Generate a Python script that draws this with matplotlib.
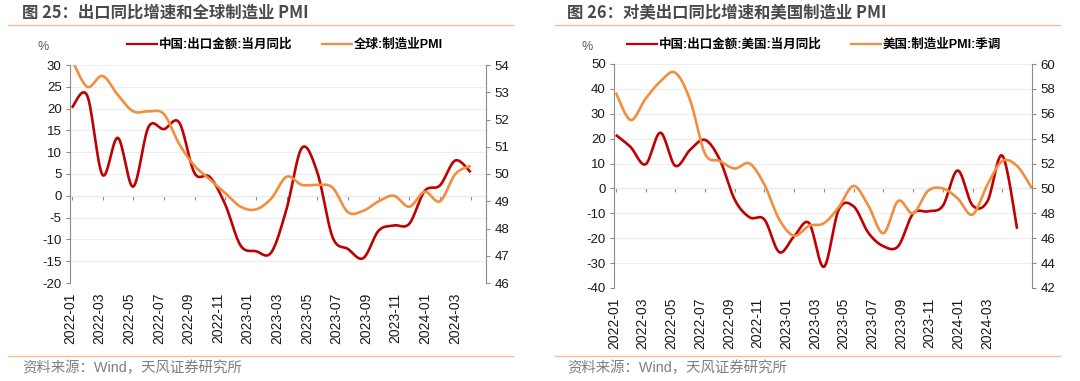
import numpy as np
import pandas as pd
import matplotlib
matplotlib.use("Agg")
import matplotlib.pyplot as plt
from matplotlib.lines import Line2D

plt.rcParams['font.family'] = ['Liberation Sans', 'Noto Sans CJK SC']
plt.rcParams['axes.unicode_minus'] = False

# months shown on both panels
months = pd.date_range('2022-01', periods=29, freq='MS').strftime('%Y-%m').tolist()
tick_labels = months[:27:2]

# fig 25: China export yoy (%) and global manufacturing PMI
cn_export = [20.2, 23.0, 4.8, 13.3, 2.1, 15.8, 15.3, 16.8, 5.2, 4.3, -2.0, -11.4, -12.7,
             -13.0, -3.0, 11.0, 5.4, -9.5, -12.2, -14.3, -8.0, -6.8, -6.4, 1.1, 2.4, 8.1, 5.4]
global_pmi = [54.2, 53.2, 53.6, 52.9, 52.3, 52.3, 52.2, 51.1, 50.3, 49.8, 49.3, 48.8, 48.7,
              49.1, 49.9, 49.6, 49.6, 49.5, 48.6, 48.65, 49.0, 49.2, 48.8, 49.35, 49.0, 50.0, 50.3]

# fig 26: China export to US yoy (%) and US manufacturing PMI (sa)
cn_export_us = [21.5, 16.6, 9.7, 22.4, 9.1, 15.5, 19.5, 11.5, -4.5, -11.6, -12.5, -25.6, -19.2,
                -13.9, -31.5, -8.5, -7.2, -17.9, -23.2, -23.2, -10.1, -9.2, -7.0, 7.2, -6.8, -5.2,
                13.2, -16.2]
us_pmi = [57.7, 55.5, 57.2, 58.6, 59.3, 57.1, 52.8, 52.2, 51.6, 52.0, 50.3, 47.5, 46.2, 47.0,
          47.2, 48.5, 50.2, 48.6, 46.4, 49.0, 48.0, 49.8, 50.0, 49.2, 47.9, 50.3, 52.2, 51.8, 50.0]

RED = '#C00000'
ORANGE = '#F28E3E'
GREY = '#8C8C8C'
W, H = 1080, 381


def smooth(y, n=16):
    # Excel style smoothed line (Catmull-Rom bezier through the points)
    y = np.asarray(y, dtype=float)
    x = np.arange(len(y), dtype=float)
    t = np.linspace(0, 1, n, endpoint=False)
    xs, ys = [], []
    for i in range(len(y) - 1):
        i0, i3 = max(i - 1, 0), min(i + 2, len(y) - 1)
        for arr, out in ((x, xs), (y, ys)):
            p0, p1, p2, p3 = arr[i0], arr[i], arr[i + 1], arr[i3]
            c1 = p1 + (p2 - p0) / 6
            c2 = p2 - (p3 - p1) / 6
            out.extend((1 - t) ** 3 * p1 + 3 * (1 - t) ** 2 * t * c1 + 3 * (1 - t) * t ** 2 * c2 + t ** 3 * p2)
    xs.append(x[-1])
    ys.append(y[-1])
    return np.array(xs), np.array(ys)


def panel(rect, red, orange, xmax, ylim, ystep, y2lim, y2step, title, names, tx, lx, legx):
    ax = fig.add_axes([rect[0] / W, 1 - rect[3] / H, (rect[2] - rect[0]) / W, (rect[3] - rect[1]) / H])
    ax2 = ax.twinx()

    xr, yr = smooth(red)
    ax.plot(xr, yr, color=RED, lw=1.9, solid_capstyle='butt')
    xo, yo = smooth(orange)
    ax2.plot(xo, yo, color=ORANGE, lw=1.9, solid_capstyle='butt')

    ax.set_xlim(0, xmax)
    ax.set_ylim(*ylim)
    ax.set_yticks(np.arange(ylim[0], ylim[1] + 1, ystep))
    ax2.set_ylim(*y2lim)
    ax2.set_yticks(np.arange(y2lim[0], y2lim[1] + 1, y2step))

    ax.grid(axis='y', color='#EEEEEE', lw=0.8)
    ax.set_axisbelow(True)
    for a in (ax, ax2):
        for s in ('top', 'bottom'):
            a.spines[s].set_visible(False)
    ax.spines['right'].set_visible(False)
    ax2.spines['left'].set_visible(False)
    ax.spines['left'].set_color(GREY)
    ax2.spines['right'].set_color(GREY)

    ax.tick_params(axis='y', direction='out', length=3, color=GREY, labelsize=9.5, labelcolor='#1a1a1a', pad=3)
    ax2.tick_params(axis='y', direction='out', length=3, color=GREY, labelsize=9.5, labelcolor='#1a1a1a', pad=3)

    # category labels, rotated
    ax.set_xticks(np.arange(len(tick_labels)) * 1.93 - 0.12)
    ax.set_xticklabels(tick_labels, rotation=90, fontsize=10, color='#1a1a1a')
    ax.tick_params(axis='x', length=0, pad=7)

    # zero line with tick marks
    zero = -ylim[0] / (ylim[1] - ylim[0])
    sec = ax.secondary_xaxis(zero)
    sec.set_xticks(np.arange(0, xmax + 1, 2))
    sec.tick_params(direction='out', length=3, color=GREY, labelbottom=False)
    sec.spines['bottom'].set_color(GREY)
    for s in ('top', 'left', 'right'):
        sec.spines[s].set_visible(False)

    # header, legend, footer
    fig.text(tx / W, 1 - 13 / H, title, fontsize=11.8, fontweight='bold', color='#4a4a4a',
             family=['Noto Sans CJK SC'], va='center', ha='left')
    fig.add_artist(Line2D([lx[0] / W, lx[1] / W], [1 - 25 / H] * 2, color='#F6BE94', lw=1))
    fig.add_artist(Line2D([lx[0] / W, lx[1] / W], [1 - 356 / H] * 2, color='#F6BE94', lw=1))
    fig.text(tx / W, 1 - 368 / H, '资料来源：Wind，天风证券研究所', fontsize=10.4, color='#7F7F7F',
             va='center', ha='left')
    fig.text((rect[0] - 27) / W, 1 - 47 / H, '%', fontsize=9, color='#595959', va='center', ha='center')
    handles = [Line2D([], [], color=RED, lw=1.6), Line2D([], [], color=ORANGE, lw=1.6)]
    fig.legend(handles, names, loc='center', bbox_to_anchor=(legx / W, 1 - 45 / H), ncol=2,
               frameon=False, handlelength=2.4, handletextpad=0.15, columnspacing=2.4,
               prop={'size': 9, 'weight': 'bold'})
    return ax, ax2


fig = plt.figure(figsize=(W / 100, H / 100), dpi=100)

panel((70, 65, 486, 283), cn_export, global_pmi, 27, (-20, 30), 5, (46, 54), 1,
      '图 25：出口同比增速和全球制造业 PMI', ['中国:出口金额:当月同比', '全球:制造业PMI'],
      22, (8, 513), 285)
panel((614, 64, 1032, 288), cn_export_us, us_pmi, 28, (-40, 50), 10, (42, 60), 2,
      '图 26：对美出口同比增速和美国制造业 PMI', ['中国:出口金额:美国:当月同比', '美国:制造业PMI:季调'],
      567, (555, 1060), 814)

fig.savefig('out.png', dpi=100)
